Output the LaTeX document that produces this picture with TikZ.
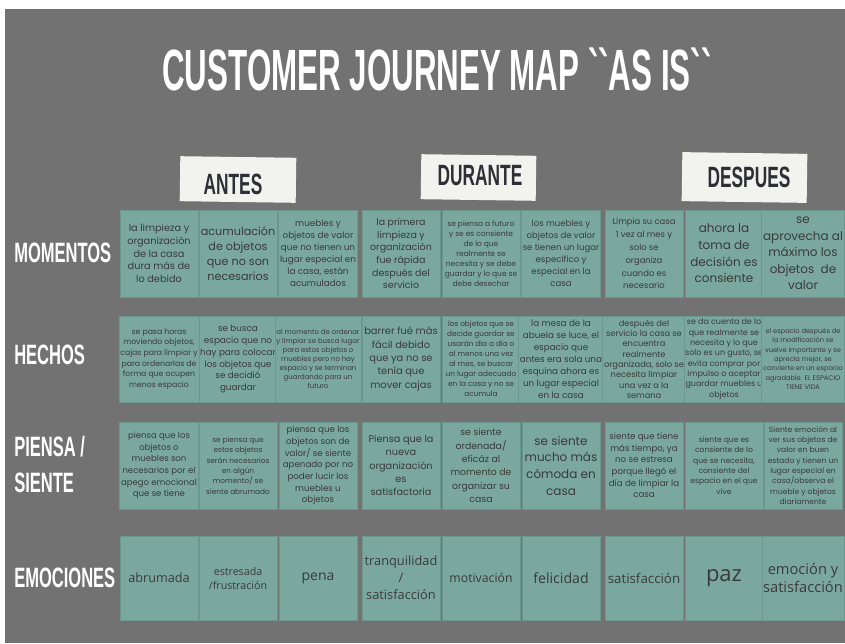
\documentclass[tikz,border=0pt]{standalone}
\usepackage{fontspec}
\setmainfont{Poppins}
\newfontfamily\emofont{Open Sans}
\newfontfamily\headfont{Liberation Sans}[Ligatures=TeXOff]

\definecolor{bggray}{HTML}{727272}
\definecolor{cellfill}{HTML}{7AA89F}
\definecolor{cellline}{HTML}{6B978E}
\definecolor{celltext}{HTML}{3A3A3A}
\definecolor{phasefill}{HTML}{F2F2EE}
\definecolor{phasetext}{HTML}{2E2E36}

\newcommand{\cellsize}[2]{\fontsize{#1}{#2}\selectfont}
\newcommand{\narrowcap}[1]{\scalebox{0.59}[1]{#1}}

\begin{document}
\begin{tikzpicture}[x=0.75pt, y=-0.75pt,
  cell/.style={draw=cellline, line width=0.4pt, fill=cellfill, text=celltext,
    minimum width=58.5pt, inner sep=1pt, align=center},
  rowlabel/.style={anchor=west, inner sep=0pt, text=white,
    font=\headfont\bfseries\fontsize{21}{24}\selectfont},
  phasebox/.style={fill=phasefill, inner sep=0pt, rotate=-0.8},
  phaselabel/.style={inner sep=0pt, text=phasetext,
    font=\headfont\bfseries\fontsize{22}{24}\selectfont}]

\useasboundingbox (0,0) rectangle (845,643);
% background
\fill[white] (0,0) rectangle (845,643);
\fill[bggray] (5,9) rectangle (845,643);

% title
\node[text=white, inner sep=0pt] (title) at (437,69.5)
  {\resizebox{412pt}{32pt}{\headfont\bfseries CUSTOMER JOURNEY MAP \char96\char96AS IS\char96\char96}};

% phases
\node[phasebox, minimum width=87pt, minimum height=33.75pt] (antesbox) at (238,179.5) {};
\node[phaselabel] (antes) at (233,184) {\narrowcap{ANTES}};
\node[phasebox, minimum width=86.25pt, minimum height=33.75pt] (durantebox) at (478.5,177.5) {};
\node[phaselabel] (durante) at (480,176) {\narrowcap{DURANTE}};
\node[phasebox, minimum width=93.75pt, minimum height=36.75pt] (despuesbox) at (744.5,177.5) {};
\node[phaselabel] (despues) at (749,177) {\narrowcap{DESPUES}};

% row labels
\node[rowlabel] (momentos) at (14,253) {\narrowcap{MOMENTOS}};
\node[rowlabel] (hechos) at (14,355) {\narrowcap{HECHOS}};
\node[rowlabel] (piensa) at (14,447) {\narrowcap{PIENSA /}};
\node[rowlabel] (siente) at (14,483) {\narrowcap{SIENTE}};
\node[rowlabel] (emociones) at (14,578) {\narrowcap{EMOCIONES}};

% momentos
\foreach \px/\fs/\ls/\txt [count=\i] in {
  159/7.3/9.5/{la limpieza y\\organización\\de la casa\\dura más de\\lo debido},
  238/8.4/11.3/{acumulación\\de objetos\\que no son\\necesarios},
  318/6.6/9/{muebles y\\objetos de valor\\que no tienen un\\lugar especial en\\la casa, están\\acumulados},
  401/7.1/9.5/{la primera\\limpieza y\\organización\\fue rápida\\después del\\servicio},
  481/5.6/7.5/{se piensa a futuro\\y se es consiente\\de lo que\\realmente se\\necesita y se debe\\guardar y lo que se\\debe desechar},
  561/6.4/9/{los muebles y\\objetos de valor\\se tienen un lugar\\específico y\\especial en la\\casa},
  644/6.3/9.7/{Limpia su casa\\1 vez al mes y\\solo se\\organiza\\cuando es\\necesario},
  724/9/12.5/{ahora la\\toma de\\decisión es\\consiente},
  803/9/12.4/{se\\aprovecha al\\máximo los\\objetos~ de\\valor}}
  \node[cell, minimum height=65.25pt, font={\cellsize{\fs}{\ls}}] (mom\i) at (\px,253.5) {\txt};

% hechos
\foreach \px/\fs/\ls/\txt [count=\i] in {
  159/5.8/8/{se pasa horas\\moviendo objetos,\\cajas para limpiar y\\para ordenarlas de\\forma que ocupen\\menos espacio},
  238/6.6/8.9/{se busca\\espacio que no\\hay para colocar\\los objetos que\\se decidió\\guardar},
  318/5.2/6.75/{al momento de ordenar\\y limpiar se busca lugar\\para estos objetos o\\muebles pero no hay\\espacio y se terminan\\guardando para un\\futuro},
  401/7.4/10/{barrer fué más\\fácil debido\\que ya no se\\tenía que\\mover cajas},
  481/5.5/7.5/{los objetos que se\\decide guardar se\\usarán día a día o\\al menos una vez\\al mes, se buscar\\un lugar adecuado\\en la casa y no se\\acumula},
  561/6.6/9/{la mesa de la\\abuela se luce, el\\espacio que\\antes era sola una\\esquina ahora es\\un lugar especial\\en la casa},
  644/6.2/7.75/{después del\\servicio la casa se\\encuentra\\realmente\\organizada, solo se\\necesita limpiar\\una vez a la\\semana},
  724/6/7.75/{se da cuenta de lo\\que realmente se\\necesita y lo que\\solo es un gusto, se\\evita comprar por\\impulso o aceptar\\guardar muebles u\\objetos},
  803/5/7/{el espacio después de\\la modificación se\\vuelve importante y se\\aprecia mejor, se\\convierte en un espacio\\agradable. EL ESPACIO\\TIENE VIDA}}
  \node[cell, minimum height=64.5pt, font={\cellsize{\fs}{\ls}}] (hec\i) at (\px,359) {\txt};

% piensa / siente
\foreach \px/\fs/\ls/\txt [count=\i] in {
  159/6.4/8.75/{piensa que los\\objetos o\\muebles son\\necesarios por el\\apego emocional\\que se tiene},
  238/5.5/7.75/{se piensa que\\estos objetos\\serán necesarios\\en algún\\momento/ se\\siente abrumado},
  318/6.5/8.75/{piensa que los\\objetos son de\\valor/ se siente\\apenado por no\\poder lucir los\\muebles u\\objetos},
  401/7.3/10/{Piensa que la\\nueva\\organización\\es\\satisfactoria},
  481/7/10/{se siente\\ordenada/\\eficáz al\\momento de\\organizar su\\casa},
  561/9/12.5/{se siente\\mucho más\\cómoda en\\casa},
  644/6.5/8.75/{siente que tiene\\más tiempo, ya\\no se estresa\\porque llegó el\\día de limpiar la\\casa},
  724/5.7/7.75/{siente que es\\consiente de lo\\que se necesita,\\consiente del\\espacio en el que\\vive},
  803/5.7/7.75/{Siente emoción al\\ver sus objetos de\\valor en buen\\estado y tienen un\\lugar especial en\\casa/observa el\\mueble y objetos\\diariamente}}
  \node[cell, minimum height=65.25pt, font={\cellsize{\fs}{\ls}}] (pie\i) at (\px,465.5) {\txt};

% emociones
\foreach \px/\fs/\ls/\txt [count=\i] in {
  159/9.5/12/{abrumada},
  238/8/10.5/{estresada\\/frustración},
  318/10.5/13/{pena},
  401/9.6/12.7/{tranquilidad\\/\\satisfacción},
  481/9.2/12/{motivación},
  561/10.6/13/{felicidad},
  644/10/12/{satisfacción},
  724/16.5/18/{paz},
  803/11/14/{emoción y\\satisfacción}}
  \node[cell, minimum height=63pt, font={\emofont\cellsize{\fs}{\ls}}] (emo\i) at (\px,578) {\txt};

\end{tikzpicture}
\end{document}
